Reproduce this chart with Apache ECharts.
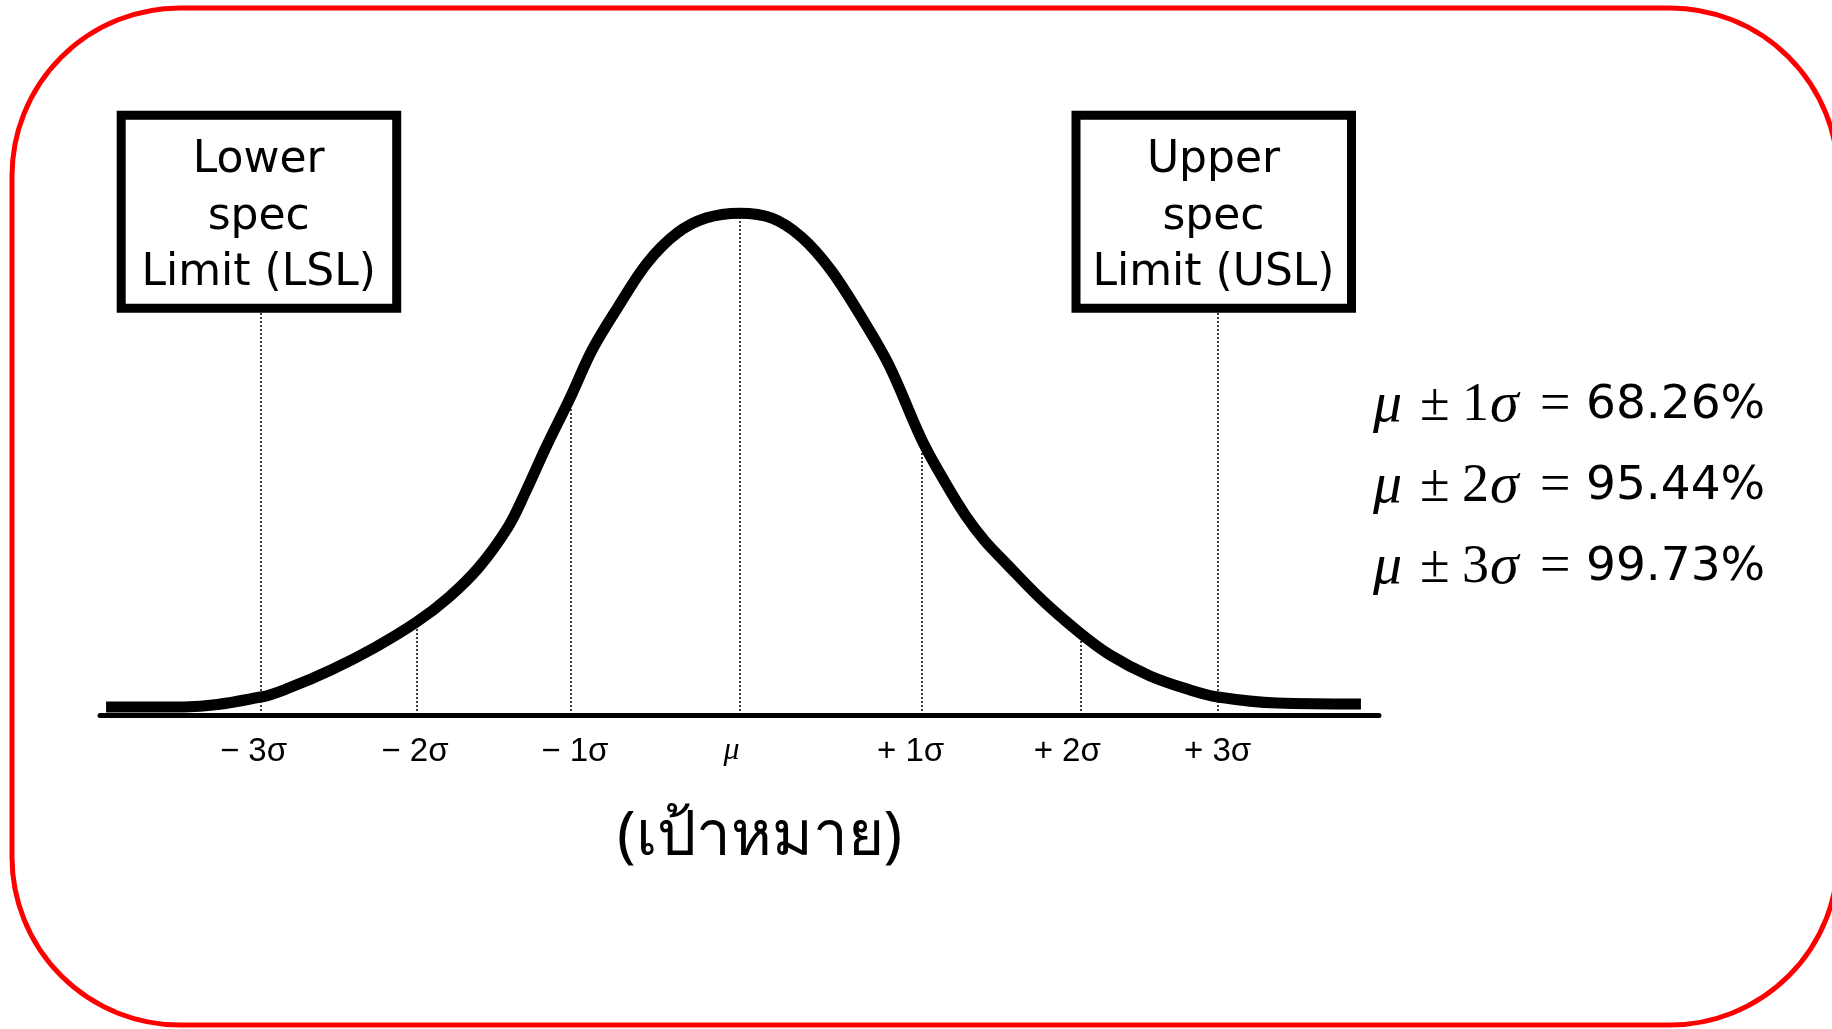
<!DOCTYPE html>
<html><head><meta charset="utf-8">
<script src="https://cdn.jsdelivr.net/npm/echarts@6/dist/echarts.min.js"></script>
<style>html,body{margin:0;padding:0;background:#fff}#c{width:1832px;height:1029px}</style>
</head><body><div id="c"></div>
<script>
// Curve: x in sigma units, y as density
const curveX = [-3.962, -3.474, -2.993, -2.818, -2.555, -2.286, -2.020, -1.817, -1.629, -1.448, -1.341, -1.210, -1.057, -0.922, -0.760, -0.578, -0.391, -0.210, 0,
                0.203, 0.388, 0.572, 0.785, 0.941, 1.141, 1.285, 1.416, 1.535, 1.660, 1.886, 2.130, 2.318, 2.568, 2.818, 2.993, 3.362, 3.887];
const curveY = [0.0064, 0.0064, 0.0143, 0.0215, 0.0358, 0.0533, 0.0739, 0.0938, 0.1176, 0.1494, 0.1765, 0.2130, 0.2528, 0.2901, 0.3243, 0.3593, 0.3831, 0.3951, 0.3990,
                0.3951, 0.3800, 0.3537, 0.3116, 0.2766, 0.2186, 0.1852, 0.1582, 0.1383, 0.1216, 0.0922, 0.0652, 0.0477, 0.0310, 0.0199, 0.0143, 0.0095, 0.0087];
// Dotted guide lines (x position, top value)
const guideX = [-2.993, -2.020, -1.057, 0, 1.141, 2.133, 2.993];
const guideTop = [0.3203, 0.0739, 0.2528, 0.3990, 0.2186, 0.0630, 0.3203];
// Tick labels
const tickPos = [-3.04, -2.03, -1.03, -0.05, 1.07, 2.05, 2.99];
const tickLabels = ['\u2212 3σ', '\u2212 2σ', '\u2212 1σ', 'μ', '+ 1σ', '+ 2σ', '+ 3σ'];
// Annotation texts
const specLabels = ['Lower\nspec\nLimit (LSL)', 'Upper\nspec\nLimit (USL)'];
const coverageK = ['1', '2', '3'];
const coveragePct = ['68.26%', '95.44%', '99.73%'];
const axisTitle = '(เป้าหมาย)';

const chart = echarts.init(document.getElementById('c'), null, {renderer: 'canvas'});

const curveData = curveX.map((x, i) => [x, curveY[i]]);
const guideData = guideX.map((x, i) => [{coord: [x, 0]}, {coord: [x, guideTop[i]]}]);

function boxGroup(cx, label) {
  return {
    type: 'group',
    children: [
      {type: 'rect', shape: {x: cx - 137.5, y: 115.2, width: 275.5, height: 193},
       style: {fill: '#fff', stroke: '#000', lineWidth: 9}},
      {type: 'text', x: cx, y: 217.5,
       style: {text: label, fill: '#000', font: '44px "DejaVu Sans"', align: 'center', verticalAlign: 'middle', lineHeight: 56.5}}
    ]
  };
}

const mathRich = {
  mu: {fontFamily: 'Liberation Serif', fontStyle: 'italic', fontSize: 58, width: 47, fill: '#000'},
  pm: {fontFamily: 'Liberation Serif', fontSize: 54, width: 42, fill: '#000'},
  one: {fontFamily: 'Liberation Serif', fontSize: 54, width: 28, fill: '#000'},
  sig: {fontFamily: 'Liberation Serif', fontStyle: 'italic', fontSize: 58, width: 50, fill: '#000'},
  eq: {fontFamily: 'Liberation Serif', fontSize: 54, width: 46, fill: '#000'},
  pct: {fontFamily: 'DejaVu Sans', fontSize: 47, fill: '#000'}
};
const baselines = [406, 487, 568];
const coverageTexts = coverageK.map((k, i) => ({
  type: 'text', x: 1373, y: baselines[i],
  style: {
    text: '{mu|μ}{pm|±}{one|' + k + '}{sig|σ}{eq|=}{pct|' + coveragePct[i] + '}',
    rich: mathRich, align: 'left', verticalAlign: 'middle'
  }
}));

const option = {
  backgroundColor: '#fff',
  animation: false,
  grid: {left: 100, right: 453, top: 149, bottom: 314, containLabel: false},
  xAxis: {
    type: 'value', min: -4, max: 4,
    axisLine: {show: true, onZero: false, lineStyle: {color: '#000', width: 5}},
    axisTick: {show: false},
    splitLine: {show: false},
    axisLabel: {
      show: true, customValues: tickPos, margin: 20,
      color: '#000', fontFamily: 'Liberation Sans', fontSize: 33,
      formatter: function (v) {
        let best = 0;
        tickPos.forEach((p, i) => { if (Math.abs(p - v) < Math.abs(tickPos[best] - v)) best = i; });
        const t = tickLabels[best];
        return t === 'μ' ? '{mu|μ}' : t;
      },
      rich: {mu: {fontFamily: 'Liberation Serif', fontStyle: 'italic', fontSize: 32, color: '#000'}}
    },
    name: axisTitle, nameLocation: 'middle', nameGap: 91,
    nameTextStyle: {color: '#000', fontSize: 62, fontFamily: 'Noto Sans, DejaVu Sans, sans-serif', padding: [0, 0, 0, 40]}
  },
  yAxis: {type: 'value', min: 0, max: 0.45, show: false, splitLine: {show: false}},
  series: [{
    type: 'line',
    data: curveData,
    smooth: 0.35,
    symbol: 'none',
    lineStyle: {color: '#000', width: 11, cap: 'butt'},
    z: 3,
    markLine: {
      silent: true, symbol: ['none', 'none'], label: {show: false},
      lineStyle: {color: '#000', width: 1.5, type: [2, 2]},
      data: guideData,
      z: 1
    }
  }],
  graphic: [
    {type: 'rect', shape: {x: 12, y: 8, width: 1826, height: 1017, r: 168},
     style: {fill: null, stroke: '#ff0000', lineWidth: 5}, z: -1},
    boxGroup(258.7, specLabels[0]),
    boxGroup(1213.5, specLabels[1])
  ].concat(coverageTexts)
};
chart.setOption(option);
</script>
</body></html>
